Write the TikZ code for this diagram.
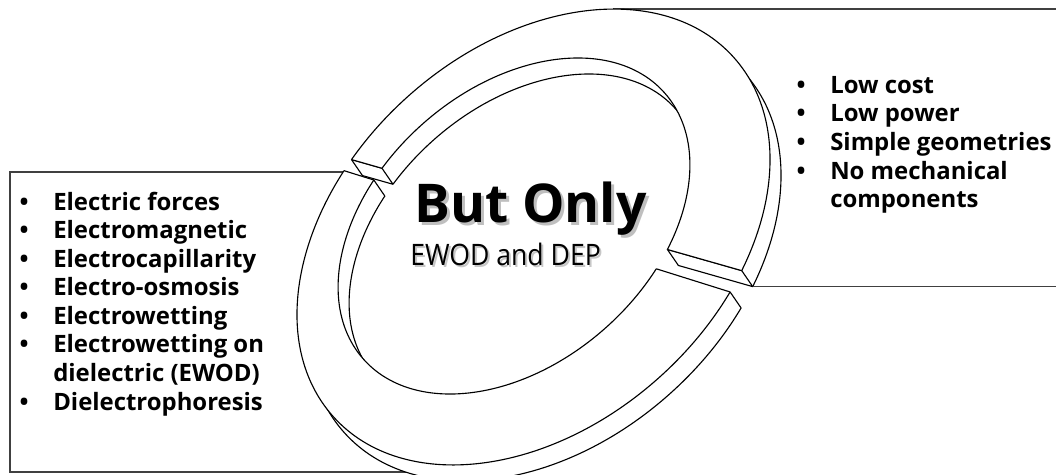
\documentclass[tikz,border=0pt]{standalone}
\usepackage{fontspec}
\setmainfont{Open Sans}
\usetikzlibrary{intersections,calc}
\begin{document}
\begin{tikzpicture}[x=0.025cm,y=-0.025cm,
  ring/.style={line width=0.8pt, draw=black, line join=round},
  face/.style={ring, fill=white},
  boxline/.style={line width=0.9pt, draw=black!75},
  itemtxt/.style={anchor=base west, inner sep=0pt, font=\bfseries\fontsize{17}{20}\selectfont},
  bul/.style={anchor=base, inner sep=0pt, font=\bfseries\fontsize{17}{20}\selectfont},
  subtxt/.style={anchor=base west, inner sep=0pt, transform shape, xscale=0.9, font=\fontsize{21}{26}\selectfont},
  eout/.style={insert path={(533.5,237) ellipse[x radius=269, y radius=188.5, rotate=41.9]}},
  ein/.style={insert path={(514,226) ellipse[x radius=201, y radius=137, rotate=41.4]}},
  hup/.style={insert path={(0,59.53) -- (1100,372.6) -- (1100,-200) -- (0,-200) -- cycle}},
  hlo/.style={insert path={(0,62.5) -- (1100,408.2) -- (1100,700) -- (0,700) -- cycle}},
]
\useasboundingbox (0,0) rectangle (1056,474);
\clip (0,0) rectangle (1056,474);

% geometry helpers
\path[name path=EO, eout];
\path[name path=EI, ein];
\path[name path=LU] (300,144.93) -- (800,287.2);
\path[name path=LL] (300,156.8) -- (800,313.96);
\path[name intersections={of=EO and LU, name=ou, sort by=LU}];
\path[name intersections={of=EI and LU, name=iu, sort by=LU}];
\path[name intersections={of=EO and LL, name=ol, sort by=LL}];
\path[name intersections={of=EI and LL, name=il, sort by=LL}];
\coordinate (OTLu) at (ou-1); \coordinate (OTRu) at (ou-2);
\coordinate (ITLu) at (iu-1); \coordinate (ITRu) at (iu-2);
\coordinate (OTLl) at (ol-1); \coordinate (OTRl) at (ol-2);
\coordinate (ITLl) at (il-1); \coordinate (ITRl) at (il-2);
\coordinate (OBLu) at ($(OTLu)+(11,16)$); \coordinate (OBRu) at ($(OTRu)+(11,16)$);
\coordinate (IBLu) at ($(ITLu)+(11,16)$); \coordinate (IBRu) at ($(ITRu)+(11,16)$);
\coordinate (IBLl) at ($(ITLl)+(11,16)$); \coordinate (OBRl) at ($(OTRl)+(11,16)$);
\coordinate (lbTL) at (10,172);

% boxes (behind the ring)
\draw[boxline] (lbTL -| OTLl) -- (lbTL) -- (10,472) -- (440,472);
\draw[boxline] (613,9) -- (1060,9);

% lower segment: bottom face
\begin{scope}[shift={(11,16)}]
  \clip[hlo];
  \fill[white, even odd rule, eout, ein];
  \draw[ring, eout];
  \draw[ring, ein];
\end{scope}
% lower segment: top face
\begin{scope}
  \clip[hlo];
  \fill[white, even odd rule, eout, ein];
  \draw[ring, eout];
  \draw[ring, ein];
\end{scope}
\draw[ring] (OTLl) -- (ITLl);
\draw[ring] (OTRl) -- (ITRl);
\draw[ring] (ITLl) -- (IBLl);
\draw[ring] (OTRl) -- (OBRl);

% upper segment: bottom face
\begin{scope}[shift={(11,16)}]
  \clip[hup];
  \fill[white, even odd rule, eout, ein];
  \draw[ring, eout];
  \draw[ring, ein];
\end{scope}
% upper segment: end faces
\draw[face] (OTLu) -- (ITLu) -- (IBLu) -- (OBLu) -- cycle;
\draw[face] (OTRu) -- (ITRu) -- (IBRu) -- (OBRu) -- cycle;
% upper segment: top face
\begin{scope}
  \clip[hup];
  \fill[white, even odd rule, eout, ein];
  \draw[ring, eout];
  \draw[ring, ein];
\end{scope}
\draw[ring] (OTLu) -- (ITLu);
\draw[ring] (OTRu) -- (ITRu);

% right box bottom edge
\draw[boxline] (OBRu) -- ++(330,0);

% centre text
\node[anchor=base west, inner sep=0pt, text=black!25, font=\bfseries\fontsize{38}{44}\selectfont] (titlesh) at (417,225) {But Only};
\node[anchor=base west, inner sep=0pt, font=\bfseries\fontsize{38}{44}\selectfont] (title) at (414,222) {But Only};
\node[subtxt, text=black!22] (subsh) at (412,267) {EWOD and DEP};
\node[subtxt] (sub) at (410,265) {EWOD and DEP};

% left list
\foreach \y/\t/\b [count=\i] in {210/Electric forces/1, 238.6/Electromagnetic/1, 267.1/Electrocapillarity/1, 295.7/Electro-osmosis/1, 324.3/Electrowetting/1, 352.9/Electrowetting on/1, 381.4/dielectric (EWOD)/0, 410/Dielectrophoresis/1} {
  \node[itemtxt] (L\i) at (53,\y) {\t};
  \ifnum\b=1 \node[bul] (LB\i) at (24,\y) {•}; \fi
}
% right list
\foreach \y/\t/\b [count=\i] in {93/Low cost/1, 121.7/Low power/1, 150.4/Simple geometries/1, 179.1/No mechanical/1, 207.8/components/0} {
  \node[itemtxt] (R\i) at (830,\y) {\t};
  \ifnum\b=1 \node[bul] (RB\i) at (801,\y) {•}; \fi
}
\end{tikzpicture}
\end{document}
